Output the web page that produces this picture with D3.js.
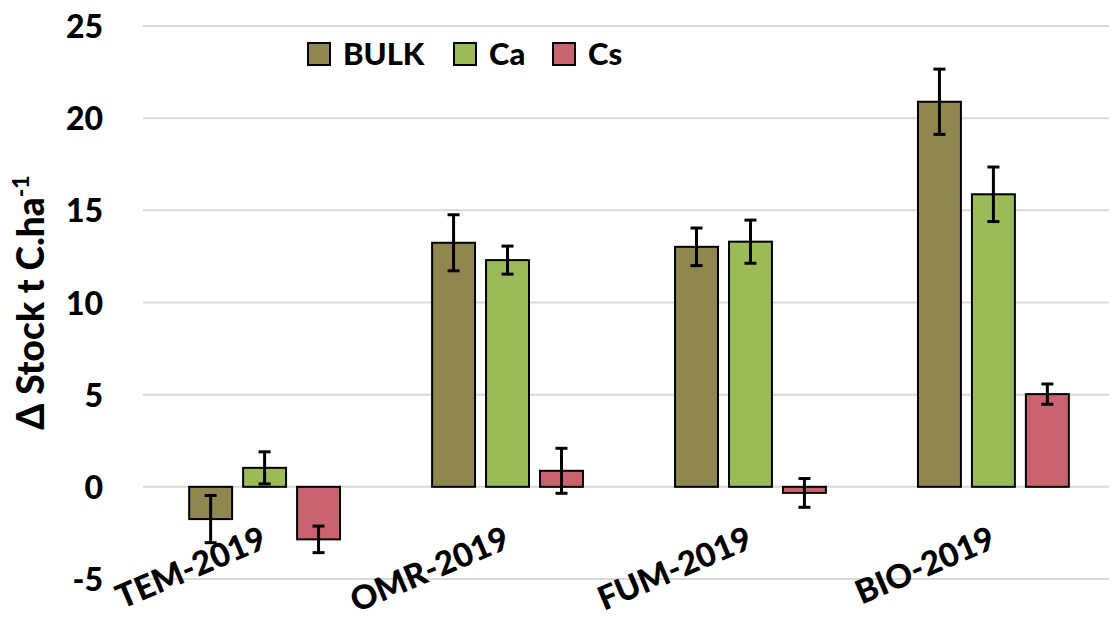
<!DOCTYPE html>
<html>
<head>
<meta charset="utf-8">
<script src="https://cdn.jsdelivr.net/npm/d3@7"></script>
<style>
  html, body { margin: 0; padding: 0; background: #fff; }
  svg { display: block; font-family: Lato, "Open Sans", sans-serif; font-weight: 900; }
</style>
</head>
<body>
<svg id="chart" width="1109" height="620"></svg>
<script>
// Treatments (x categories) and fractions (series)
const categories = ["TEM-2019", "OMR-2019", "FUM-2019", "BIO-2019"];
const seriesNames = ["BULK", "Ca", "Cs"];
const seriesColors = ["#8F8650", "#9BBB59", "#C9636F"];

// Change in carbon stock (t C/ha) per series, one value per treatment
const bulkValues = [-1.75, 13.24, 13.02, 20.89];
const caValues   = [1.03, 12.30, 13.30, 15.87];
const csValues   = [-2.85, 0.87, -0.33, 5.03];

// Error-bar half widths (same units)
const bulkErr = [1.28, 1.52, 1.02, 1.77];
const caErr   = [0.87, 0.76, 1.17, 1.48];
const csErr   = [0.72, 1.22, 0.78, 0.55];

const yTicks = [-5, 0, 5, 10, 15, 20, 25];

const values = [bulkValues, caValues, csValues];
const errors = [bulkErr, caErr, csErr];

const svg = d3.select("#chart");

const plotLeft = 143, plotRight = 1115, plotTop = 26, plotBottom = 579;

const y = d3.scaleLinear().domain([-5, 25]).range([plotBottom, plotTop]);
const x0 = d3.scaleBand().domain(categories).range([plotLeft, plotRight])
  .paddingInner(0.379).paddingOuter(0.19);
const x1 = d3.scaleBand().domain(seriesNames).range([0, x0.bandwidth()])
  .paddingInner(0.204).paddingOuter(0);

// Horizontal gridlines
svg.append("g").selectAll("line").data(yTicks).join("line")
  .attr("x1", plotLeft).attr("x2", plotRight)
  .attr("y1", d => y(d)).attr("y2", d => y(d))
  .attr("stroke", "#D9D9D9").attr("stroke-width", 2);

// Y axis tick labels (plain hyphen for negatives)
const yAxis = d3.axisLeft(y).tickValues(yTicks).tickSize(0).tickPadding(0)
  .tickFormat(d => String(d));
const gy = svg.append("g").attr("transform", `translate(${plotLeft - 40},0)`).call(yAxis);
gy.select(".domain").remove();
gy.selectAll("text")
  .attr("font-family", "Lato, 'Open Sans', sans-serif")
  .attr("font-weight", 900).attr("font-size", 32).attr("fill", "#000")
  .attr("dy", "0.36em");

// Y axis title
svg.append("text")
  .attr("transform", `translate(44,${(plotTop + plotBottom) / 2}) rotate(-90)`)
  .attr("text-anchor", "middle")
  .attr("font-size", 37).attr("fill", "#000")
  .call(t => {
    t.append("tspan").text("Δ Stock t C.ha");
    t.append("tspan").attr("dy", -15).attr("font-size", 23).text("-1");
  });

// Bars
const groups = svg.append("g").selectAll("g").data(categories).join("g")
  .attr("transform", d => `translate(${x0(d)},0)`);

groups.each(function (cat, ci) {
  const g = d3.select(this);
  seriesNames.forEach((s, si) => {
    const v = values[si][ci];
    g.append("rect")
      .attr("x", x1(s)).attr("width", x1.bandwidth())
      .attr("y", y(Math.max(0, v)))
      .attr("height", Math.abs(y(v) - y(0)))
      .attr("fill", seriesColors[si])
      .attr("stroke", "#000").attr("stroke-width", 2);
  });
  seriesNames.forEach((s, si) => {
    const v = values[si][ci], e = errors[si][ci];
    const cx = x1(s) + x1.bandwidth() / 2;
    const eg = g.append("g").attr("stroke", "#000").attr("stroke-width", 3);
    eg.append("line").attr("x1", cx).attr("x2", cx).attr("y1", y(v + e)).attr("y2", y(v - e));
    [v + e, v - e].forEach(ev => {
      eg.append("line").attr("x1", cx - 6).attr("x2", cx + 6).attr("y1", y(ev)).attr("y2", y(ev));
    });
  });
});

// Category labels, rotated
svg.append("g").selectAll("text").data(categories).join("text")
  .attr("transform", d => `translate(${x0(d) + x0.bandwidth() / 2 + 4},547) rotate(-23)`)
  .attr("text-anchor", "end")
  .attr("font-size", 33).attr("fill", "#000")
  .text(d => d);

// Legend
const legendX = [308, 454, 553];
const legend = svg.append("g").selectAll("g").data(seriesNames).join("g")
  .attr("transform", (d, i) => `translate(${legendX[i]},43)`);
legend.append("rect").attr("width", 22).attr("height", 22)
  .attr("fill", (d, i) => seriesColors[i]).attr("stroke", "#000").attr("stroke-width", 2);
legend.append("text").attr("x", 35).attr("y", 22)
  .attr("font-size", 31).attr("fill", "#000").text(d => d);
</script>
</body>
</html>
